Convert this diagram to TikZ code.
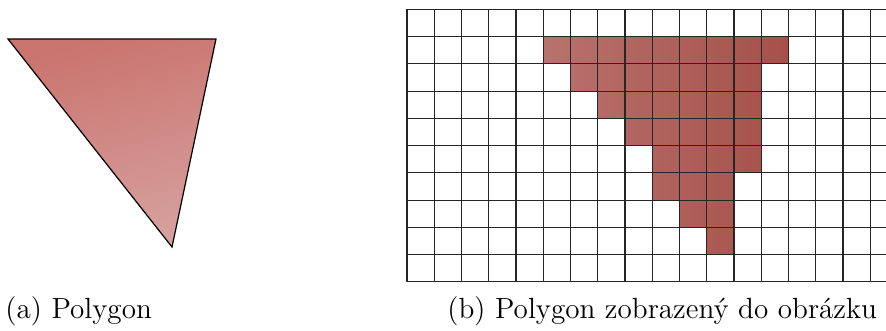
\documentclass[tikz,border=0pt]{standalone}
\usepackage{fontspec}
\usepackage{tikz}
\usepackage{xcolor}
\usetikzlibrary{positioning, calc}

\definecolor{triTop}{RGB}{202,116,110}
\definecolor{triBot}{RGB}{214,160,158}
\definecolor{pixLeft}{RGB}{184,114,110}
\definecolor{pixRight}{RGB}{166,80,73}

\begin{document}
\begin{tikzpicture}[
  x=0.4115pt, y=-0.4115pt,
  gridline/.style={draw=black!85, line width=0.45pt},
  caption/.style={font=\large, anchor=base west, inner sep=0pt},
]
\useasboundingbox (0,0) rectangle (886,330);

% polygon
\coordinate (pA) at (8,39);
\coordinate (pB) at (216,39);
\coordinate (pC) at (172,247);
\shadedraw[top color=triTop, bottom color=triBot, shading angle=15, line width=0.5pt]
  (pA) -- (pB) -- (pC) -- cycle;

% rasterized polygon
\begin{scope}
\clip (0,0) rectangle (886,330);
\begin{scope}[shift={(407,281.8)}, x=11.213pt, y=11.213pt]
\shade[left color=pixLeft, right color=pixRight]
  (5,9) -- (14,9) -- (14,8) -- (13,8) -- (13,4) -- (12,4) -- (12,1) -- (11,1)
  -- (11,2) -- (10,2) -- (10,3) -- (9,3) -- (9,5) -- (8,5) -- (8,6) -- (7,6)
  -- (7,7) -- (6,7) -- (6,8) -- (5,8) -- cycle;
\foreach \i in {0,...,18}
  \draw[gridline] (\i,0) -- (\i,10);
\foreach \j in {0,...,10}
  \draw[gridline] (0,\j) -- (18,\j);
\end{scope}
\end{scope}

\node[caption] (capA) at (5,318) {(a) Polygon};
\node[caption] (capB) at (447,318) {(b) Polygon zobrazený do obrázku};
\end{tikzpicture}
\end{document}
